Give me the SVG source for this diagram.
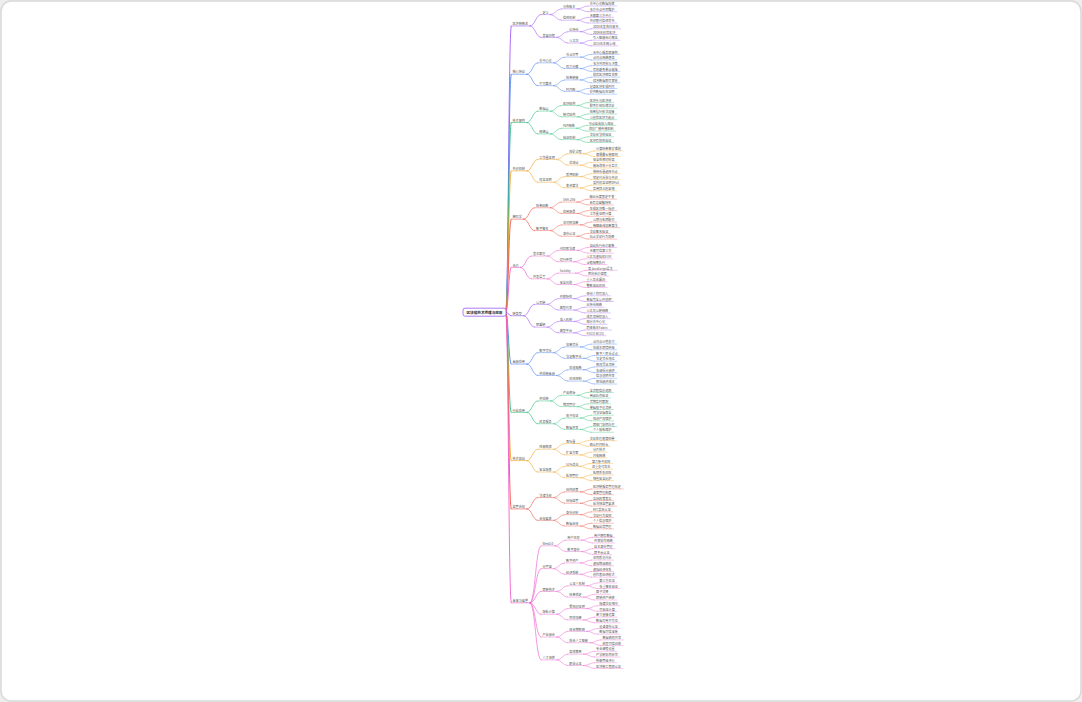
<svg xmlns="http://www.w3.org/2000/svg" width="1082" height="702" viewBox="0 0 1082 702">
<style>
.c1{color:#a35cf5}.c2{color:#4f83f1}.c3{color:#2ec27e}.c4{color:#f5a524}.c5{color:#f0564a}.c6{color:#ee5fcf}
.u1,.u2,.u3,.u4,.k1,.k2,.k3,.k4{fill:none;stroke:currentColor;stroke-linecap:round}
.u1{stroke-width:.6}.u2{stroke-width:.45}.u3{stroke-width:.4}.u4{stroke-width:.35}
.k1{stroke-width:.9}.k2{stroke-width:.65}.k3{stroke-width:.5}.k4{stroke-width:.45}
text{font-family:"Noto Sans CJK SC","Liberation Sans",sans-serif;font-size:3.1px;fill:#555}
.rt{font-size:3.6px;font-weight:bold;fill:#333;text-anchor:middle}
</style>
<rect x="0" y="0" width="1082" height="702" fill="#eeeeee"/>
<rect x="1" y="1" width="1080" height="700" rx="10" fill="#ffffff" stroke="#d9d9d9" stroke-width="1.5"/>

<g id="connectors">
  <g id="root-links">
    <path class="k1 c1" d="M506 312.2C508.5 312.2 508.5 25.95 511 25.95"/>
    <path class="k1 c2" d="M506 312.2C508.5 312.2 508.5 74.25 511 74.25"/>
    <path class="k1 c3" d="M506 312.2C508.5 312.2 508.5 122.55 511 122.55"/>
    <path class="k1 c4" d="M506 312.2C508.5 312.2 508.5 170.85 511 170.85"/>
    <path class="k1 c5" d="M506 312.2C508.5 312.2 508.5 219.15 511 219.15"/>
    <path class="k1 c6" d="M506 312.2C508.5 312.2 508.5 267.45 511 267.45"/>
    <path class="k1 c1" d="M506 312.2C508.5 312.2 508.5 315.75 511 315.75"/>
    <path class="k1 c2" d="M506 312.2C508.5 312.2 508.5 364.05 511 364.05"/>
    <path class="k1 c3" d="M506 312.2C508.5 312.2 508.5 412.35 511 412.35"/>
    <path class="k1 c4" d="M506 312.2C508.5 312.2 508.5 460.65 511 460.65"/>
    <path class="k1 c5" d="M506 312.2C508.5 312.2 508.5 508.95 511 508.95"/>
    <path class="k1 c6" d="M506 312.2C508.5 312.2 508.5 602.85 511 602.85"/>
  </g>
  <g id="links-b1" class="c1" transform="translate(0 4)">
    <path class="k2" d="M530 21.95C535.5 21.95 535.5 10.55 541 10.55"/>
    <path class="k2" d="M530 21.95C535.5 21.95 535.5 33.35 541 33.35"/>
    <path class="k3" d="M550.4 10.55C555.9 10.55 555.9 4.85 561.4 4.85"/>
    <path class="k3" d="M550.4 10.55C555.9 10.55 555.9 16.25 561.4 16.25"/>
    <path class="k3" d="M556.8 33.35C562.3 33.35 562.3 27.65 567.8 27.65"/>
    <path class="k3" d="M556.8 33.35C562.3 33.35 562.3 39.05 567.8 39.05"/>
    <path class="k4" d="M577.2 4.85C582.7 4.85 582.7 2 588.2 2"/>
    <path class="k4" d="M577.2 4.85C582.7 4.85 582.7 7.7 588.2 7.7"/>
    <path class="k4" d="M577.2 16.25C582.7 16.25 582.7 13.4 588.2 13.4"/>
    <path class="k4" d="M577.2 16.25C582.7 16.25 582.7 19.1 588.2 19.1"/>
    <path class="k4" d="M580.4 27.65C585.9 27.65 585.9 24.8 591.4 24.8"/>
    <path class="k4" d="M580.4 27.65C585.9 27.65 585.9 30.5 591.4 30.5"/>
    <path class="k4" d="M580.4 39.05C585.9 39.05 585.9 36.2 591.4 36.2"/>
    <path class="k4" d="M580.4 39.05C585.9 39.05 585.9 41.9 591.4 41.9"/>
  </g>
  <g id="links-b2" class="c2" transform="translate(0 52.3)">
    <path class="k2" d="M526.8 21.95C532.3 21.95 532.3 10.55 537.8 10.55"/>
    <path class="k2" d="M526.8 21.95C532.3 21.95 532.3 33.35 537.8 33.35"/>
    <path class="k3" d="M553.6 10.55C559.1 10.55 559.1 4.85 564.6 4.85"/>
    <path class="k3" d="M553.6 10.55C559.1 10.55 559.1 16.25 564.6 16.25"/>
    <path class="k3" d="M553.6 33.35C559.1 33.35 559.1 27.65 564.6 27.65"/>
    <path class="k3" d="M553.6 33.35C559.1 33.35 559.1 39.05 564.6 39.05"/>
    <path class="k4" d="M580.4 4.85C585.9 4.85 585.9 2 591.4 2"/>
    <path class="k4" d="M580.4 4.85C585.9 4.85 585.9 7.7 591.4 7.7"/>
    <path class="k4" d="M580.4 16.25C585.9 16.25 585.9 13.4 591.4 13.4"/>
    <path class="k4" d="M580.4 16.25C585.9 16.25 585.9 19.1 591.4 19.1"/>
    <path class="k4" d="M580.4 27.65C585.9 27.65 585.9 24.8 591.4 24.8"/>
    <path class="k4" d="M580.4 27.65C585.9 27.65 585.9 30.5 591.4 30.5"/>
    <path class="k4" d="M577.2 39.05C582.7 39.05 582.7 36.2 588.2 36.2"/>
    <path class="k4" d="M577.2 39.05C582.7 39.05 582.7 41.9 588.2 41.9"/>
  </g>
  <g id="links-b3" class="c3" transform="translate(0 100.6)">
    <path class="k2" d="M526.8 21.95C532.3 21.95 532.3 10.55 537.8 10.55"/>
    <path class="k2" d="M526.8 21.95C532.3 21.95 532.3 33.35 537.8 33.35"/>
    <path class="k3" d="M550.4 10.55C555.9 10.55 555.9 4.85 561.4 4.85"/>
    <path class="k3" d="M550.4 10.55C555.9 10.55 555.9 16.25 561.4 16.25"/>
    <path class="k3" d="M550.4 33.35C555.9 33.35 555.9 27.65 561.4 27.65"/>
    <path class="k3" d="M550.4 33.35C555.9 33.35 555.9 39.05 561.4 39.05"/>
    <path class="k4" d="M577.2 4.85C582.7 4.85 582.7 2 588.2 2"/>
    <path class="k4" d="M577.2 4.85C582.7 4.85 582.7 7.7 588.2 7.7"/>
    <path class="k4" d="M577.2 16.25C582.7 16.25 582.7 13.4 588.2 13.4"/>
    <path class="k4" d="M577.2 16.25C582.7 16.25 582.7 19.1 588.2 19.1"/>
    <path class="k4" d="M576.2 27.65C581.7 27.65 581.7 24.8 587.2 24.8"/>
    <path class="k4" d="M576.2 27.65C581.7 27.65 581.7 30.5 587.2 30.5"/>
    <path class="k4" d="M577.2 39.05C582.7 39.05 582.7 36.2 588.2 36.2"/>
    <path class="k4" d="M577.2 39.05C582.7 39.05 582.7 41.9 588.2 41.9"/>
  </g>
  <g id="links-b4" class="c4" transform="translate(0 148.9)">
    <path class="k2" d="M526.8 21.95C532.3 21.95 532.3 10.55 537.8 10.55"/>
    <path class="k2" d="M526.8 21.95C532.3 21.95 532.3 33.35 537.8 33.35"/>
    <path class="k3" d="M556.8 10.55C562.3 10.55 562.3 4.85 567.8 4.85"/>
    <path class="k3" d="M556.8 10.55C562.3 10.55 562.3 16.25 567.8 16.25"/>
    <path class="k3" d="M553.6 33.35C559.1 33.35 559.1 27.65 564.6 27.65"/>
    <path class="k3" d="M553.6 33.35C559.1 33.35 559.1 39.05 564.6 39.05"/>
    <path class="k4" d="M583.6 4.85C589.1 4.85 589.1 2 594.6 2"/>
    <path class="k4" d="M583.6 4.85C589.1 4.85 589.1 7.7 594.6 7.7"/>
    <path class="k4" d="M580.4 16.25C585.9 16.25 585.9 13.4 591.4 13.4"/>
    <path class="k4" d="M580.4 16.25C585.9 16.25 585.9 19.1 591.4 19.1"/>
    <path class="k4" d="M580.4 27.65C585.9 27.65 585.9 24.8 591.4 24.8"/>
    <path class="k4" d="M580.4 27.65C585.9 27.65 585.9 30.5 591.4 30.5"/>
    <path class="k4" d="M580.4 39.05C585.9 39.05 585.9 36.2 591.4 36.2"/>
    <path class="k4" d="M580.4 39.05C585.9 39.05 585.9 41.9 591.4 41.9"/>
  </g>
  <g id="links-b5" class="c5" transform="translate(0 197.2)">
    <path class="k2" d="M523.6 21.95C529.1 21.95 529.1 10.55 534.6 10.55"/>
    <path class="k2" d="M523.6 21.95C529.1 21.95 529.1 33.35 534.6 33.35"/>
    <path class="k3" d="M550.4 10.55C555.9 10.55 555.9 4.85 561.4 4.85"/>
    <path class="k3" d="M550.4 10.55C555.9 10.55 555.9 16.25 561.4 16.25"/>
    <path class="k3" d="M550.4 33.35C555.9 33.35 555.9 27.65 561.4 27.65"/>
    <path class="k3" d="M550.4 33.35C555.9 33.35 555.9 39.05 561.4 39.05"/>
    <path class="k4" d="M577 4.85C582.5 4.85 582.5 2 588 2"/>
    <path class="k4" d="M577 4.85C582.5 4.85 582.5 7.7 588 7.7"/>
    <path class="k4" d="M577.2 16.25C582.7 16.25 582.7 13.4 588.2 13.4"/>
    <path class="k4" d="M577.2 16.25C582.7 16.25 582.7 19.1 588.2 19.1"/>
    <path class="k4" d="M580.4 27.65C585.9 27.65 585.9 24.8 591.4 24.8"/>
    <path class="k4" d="M580.4 27.65C585.9 27.65 585.9 30.5 591.4 30.5"/>
    <path class="k4" d="M577.2 39.05C582.7 39.05 582.7 36.2 588.2 36.2"/>
    <path class="k4" d="M577.2 39.05C582.7 39.05 582.7 41.9 588.2 41.9"/>
  </g>
  <g id="links-b6" class="c6" transform="translate(0 245.5)">
    <path class="k2" d="M520.4 21.95C525.9 21.95 525.9 10.55 531.4 10.55"/>
    <path class="k2" d="M520.4 21.95C525.9 21.95 525.9 33.35 531.4 33.35"/>
    <path class="k3" d="M547.2 10.55C552.7 10.55 552.7 4.85 558.2 4.85"/>
    <path class="k3" d="M547.2 10.55C552.7 10.55 552.7 16.25 558.2 16.25"/>
    <path class="k3" d="M547.2 33.35C552.7 33.35 552.7 27.65 558.2 27.65"/>
    <path class="k3" d="M547.2 33.35C552.7 33.35 552.7 39.05 558.2 39.05"/>
    <path class="k4" d="M577.2 4.85C582.7 4.85 582.7 2 588.2 2"/>
    <path class="k4" d="M577.2 4.85C582.7 4.85 582.7 7.7 588.2 7.7"/>
    <path class="k4" d="M574 16.25C579.5 16.25 579.5 13.4 585 13.4"/>
    <path class="k4" d="M574 16.25C579.5 16.25 579.5 19.1 585 19.1"/>
    <path class="k4" d="M575.6 27.65C581.1 27.65 581.1 24.8 586.6 24.8"/>
    <path class="k4" d="M575.6 27.65C581.1 27.65 581.1 30.5 586.6 30.5"/>
    <path class="k4" d="M574 39.05C579.5 39.05 579.5 36.2 585 36.2"/>
    <path class="k4" d="M574 39.05C579.5 39.05 579.5 41.9 585 41.9"/>
  </g>
  <g id="links-b7" class="c1" transform="translate(0 293.8)">
    <path class="k2" d="M523.6 21.95C529.1 21.95 529.1 10.55 534.6 10.55"/>
    <path class="k2" d="M523.6 21.95C529.1 21.95 529.1 33.35 534.6 33.35"/>
    <path class="k3" d="M547.2 10.55C552.7 10.55 552.7 4.85 558.2 4.85"/>
    <path class="k3" d="M547.2 10.55C552.7 10.55 552.7 16.25 558.2 16.25"/>
    <path class="k3" d="M547.2 33.35C552.7 33.35 552.7 27.65 558.2 27.65"/>
    <path class="k3" d="M547.2 33.35C552.7 33.35 552.7 39.05 558.2 39.05"/>
    <path class="k4" d="M574 4.85C579.5 4.85 579.5 2 585 2"/>
    <path class="k4" d="M574 4.85C579.5 4.85 579.5 7.7 585 7.7"/>
    <path class="k4" d="M574 16.25C579.5 16.25 579.5 13.4 585 13.4"/>
    <path class="k4" d="M574 16.25C579.5 16.25 579.5 19.1 585 19.1"/>
    <path class="k4" d="M574 27.65C579.5 27.65 579.5 24.8 585 24.8"/>
    <path class="k4" d="M574 27.65C579.5 27.65 579.5 30.5 585 30.5"/>
    <path class="k4" d="M574 39.05C579.5 39.05 579.5 36.2 585 36.2"/>
    <path class="k4" d="M574 39.05C579.5 39.05 579.5 41.9 585 41.9"/>
  </g>
  <g id="links-b8" class="c2" transform="translate(0 342.1)">
    <path class="k2" d="M526.8 21.95C532.3 21.95 532.3 10.55 537.8 10.55"/>
    <path class="k2" d="M526.8 21.95C532.3 21.95 532.3 33.35 537.8 33.35"/>
    <path class="k3" d="M553.6 10.55C559.1 10.55 559.1 4.85 564.6 4.85"/>
    <path class="k3" d="M553.6 10.55C559.1 10.55 559.1 16.25 564.6 16.25"/>
    <path class="k3" d="M556.8 33.35C562.3 33.35 562.3 27.65 567.8 27.65"/>
    <path class="k3" d="M556.8 33.35C562.3 33.35 562.3 39.05 567.8 39.05"/>
    <path class="k4" d="M580.4 4.85C585.9 4.85 585.9 2 591.4 2"/>
    <path class="k4" d="M580.4 4.85C585.9 4.85 585.9 7.7 591.4 7.7"/>
    <path class="k4" d="M583.6 16.25C589.1 16.25 589.1 13.4 594.6 13.4"/>
    <path class="k4" d="M583.6 16.25C589.1 16.25 589.1 19.1 594.6 19.1"/>
    <path class="k4" d="M583.6 27.65C589.1 27.65 589.1 24.8 594.6 24.8"/>
    <path class="k4" d="M583.6 27.65C589.1 27.65 589.1 30.5 594.6 30.5"/>
    <path class="k4" d="M583.6 39.05C589.1 39.05 589.1 36.2 594.6 36.2"/>
    <path class="k4" d="M583.6 39.05C589.1 39.05 589.1 41.9 594.6 41.9"/>
  </g>
  <g id="links-b9" class="c3" transform="translate(0 390.4)">
    <path class="k2" d="M526.8 21.95C532.3 21.95 532.3 10.55 537.8 10.55"/>
    <path class="k2" d="M526.8 21.95C532.3 21.95 532.3 33.35 537.8 33.35"/>
    <path class="k3" d="M550.4 10.55C555.9 10.55 555.9 4.85 561.4 4.85"/>
    <path class="k3" d="M550.4 10.55C555.9 10.55 555.9 16.25 561.4 16.25"/>
    <path class="k3" d="M553.6 33.35C559.1 33.35 559.1 27.65 564.6 27.65"/>
    <path class="k3" d="M553.6 33.35C559.1 33.35 559.1 39.05 564.6 39.05"/>
    <path class="k4" d="M577.2 4.85C582.7 4.85 582.7 2 588.2 2"/>
    <path class="k4" d="M577.2 4.85C582.7 4.85 582.7 7.7 588.2 7.7"/>
    <path class="k4" d="M577.2 16.25C582.7 16.25 582.7 13.4 588.2 13.4"/>
    <path class="k4" d="M577.2 16.25C582.7 16.25 582.7 19.1 588.2 19.1"/>
    <path class="k4" d="M580.4 27.65C585.9 27.65 585.9 24.8 591.4 24.8"/>
    <path class="k4" d="M580.4 27.65C585.9 27.65 585.9 30.5 591.4 30.5"/>
    <path class="k4" d="M580.4 39.05C585.9 39.05 585.9 36.2 591.4 36.2"/>
    <path class="k4" d="M580.4 39.05C585.9 39.05 585.9 41.9 591.4 41.9"/>
  </g>
  <g id="links-b10" class="c4" transform="translate(0 438.7)">
    <path class="k2" d="M526.8 21.95C532.3 21.95 532.3 10.55 537.8 10.55"/>
    <path class="k2" d="M526.8 21.95C532.3 21.95 532.3 33.35 537.8 33.35"/>
    <path class="k3" d="M553.6 10.55C559.1 10.55 559.1 4.85 564.6 4.85"/>
    <path class="k3" d="M553.6 10.55C559.1 10.55 559.1 16.25 564.6 16.25"/>
    <path class="k3" d="M553.6 33.35C559.1 33.35 559.1 27.65 564.6 27.65"/>
    <path class="k3" d="M553.6 33.35C559.1 33.35 559.1 39.05 564.6 39.05"/>
    <path class="k4" d="M577.2 4.85C582.7 4.85 582.7 2 588.2 2"/>
    <path class="k4" d="M577.2 4.85C582.7 4.85 582.7 7.7 588.2 7.7"/>
    <path class="k4" d="M580.4 16.25C585.9 16.25 585.9 13.4 591.4 13.4"/>
    <path class="k4" d="M580.4 16.25C585.9 16.25 585.9 19.1 591.4 19.1"/>
    <path class="k4" d="M579.4 27.65C584.9 27.65 584.9 24.8 590.4 24.8"/>
    <path class="k4" d="M579.4 27.65C584.9 27.65 584.9 30.5 590.4 30.5"/>
    <path class="k4" d="M580.4 39.05C585.9 39.05 585.9 36.2 591.4 36.2"/>
    <path class="k4" d="M580.4 39.05C585.9 39.05 585.9 41.9 591.4 41.9"/>
  </g>
  <g id="links-b11" class="c5" transform="translate(0 487)">
    <path class="k2" d="M526.8 21.95C532.3 21.95 532.3 10.55 537.8 10.55"/>
    <path class="k2" d="M526.8 21.95C532.3 21.95 532.3 33.35 537.8 33.35"/>
    <path class="k3" d="M553.6 10.55C559.1 10.55 559.1 4.85 564.6 4.85"/>
    <path class="k3" d="M553.6 10.55C559.1 10.55 559.1 16.25 564.6 16.25"/>
    <path class="k3" d="M553.6 33.35C559.1 33.35 559.1 27.65 564.6 27.65"/>
    <path class="k3" d="M553.6 33.35C559.1 33.35 559.1 39.05 564.6 39.05"/>
    <path class="k4" d="M580.4 4.85C585.9 4.85 585.9 2 591.4 2"/>
    <path class="k4" d="M580.4 4.85C585.9 4.85 585.9 7.7 591.4 7.7"/>
    <path class="k4" d="M580.4 16.25C585.9 16.25 585.9 13.4 591.4 13.4"/>
    <path class="k4" d="M580.4 16.25C585.9 16.25 585.9 19.1 591.4 19.1"/>
    <path class="k4" d="M580.4 27.65C585.9 27.65 585.9 24.8 591.4 24.8"/>
    <path class="k4" d="M580.4 27.65C585.9 27.65 585.9 30.5 591.4 30.5"/>
    <path class="k4" d="M580.4 39.05C585.9 39.05 585.9 36.2 591.4 36.2"/>
    <path class="k4" d="M580.4 39.05C585.9 39.05 585.9 41.9 591.4 41.9"/>
  </g>
  <g id="links-b12" class="c6" transform="translate(0 535.3)">
    <path class="k2" d="M530 67.55C535.5 67.55 535.5 10.55 541 10.55"/>
    <path class="k2" d="M530 67.55C535.5 67.55 535.5 33.35 541 33.35"/>
    <path class="k2" d="M530 67.55C535.5 67.55 535.5 56.15 541 56.15"/>
    <path class="k2" d="M530 67.55C535.5 67.55 535.5 78.95 541 78.95"/>
    <path class="k2" d="M530 67.55C535.5 67.55 535.5 101.75 541 101.75"/>
    <path class="k2" d="M530 67.55C535.5 67.55 535.5 124.55 541 124.55"/>
    <path class="k3" d="M554.8 10.55C560.3 10.55 560.3 4.85 565.8 4.85"/>
    <path class="k3" d="M554.8 10.55C560.3 10.55 560.3 16.25 565.8 16.25"/>
    <path class="k3" d="M553.6 33.35C559.1 33.35 559.1 27.65 564.6 27.65"/>
    <path class="k3" d="M553.6 33.35C559.1 33.35 559.1 39.05 564.6 39.05"/>
    <path class="k3" d="M556.8 56.15C562.3 56.15 562.3 50.45 567.8 50.45"/>
    <path class="k3" d="M556.8 56.15C562.3 56.15 562.3 61.85 567.8 61.85"/>
    <path class="k3" d="M556.8 78.95C562.3 78.95 562.3 73.25 567.8 73.25"/>
    <path class="k3" d="M556.8 78.95C562.3 78.95 562.3 84.65 567.8 84.65"/>
    <path class="k3" d="M556.8 101.75C562.3 101.75 562.3 96.05 567.8 96.05"/>
    <path class="k3" d="M556.8 101.75C562.3 101.75 562.3 107.45 567.8 107.45"/>
    <path class="k3" d="M556.8 124.55C562.3 124.55 562.3 118.85 567.8 118.85"/>
    <path class="k3" d="M556.8 124.55C562.3 124.55 562.3 130.25 567.8 130.25"/>
    <path class="k4" d="M581.6 4.85C587.1 4.85 587.1 2 592.6 2"/>
    <path class="k4" d="M581.6 4.85C587.1 4.85 587.1 7.7 592.6 7.7"/>
    <path class="k4" d="M581.6 16.25C587.1 16.25 587.1 13.4 592.6 13.4"/>
    <path class="k4" d="M581.6 16.25C587.1 16.25 587.1 19.1 592.6 19.1"/>
    <path class="k4" d="M580.4 27.65C585.9 27.65 585.9 24.8 591.4 24.8"/>
    <path class="k4" d="M580.4 27.65C585.9 27.65 585.9 30.5 591.4 30.5"/>
    <path class="k4" d="M580.4 39.05C585.9 39.05 585.9 36.2 591.4 36.2"/>
    <path class="k4" d="M580.4 39.05C585.9 39.05 585.9 41.9 591.4 41.9"/>
    <path class="k4" d="M586.8 50.45C592.3 50.45 592.3 47.6 597.8 47.6"/>
    <path class="k4" d="M586.8 50.45C592.3 50.45 592.3 53.3 597.8 53.3"/>
    <path class="k4" d="M583.6 61.85C589.1 61.85 589.1 59 594.6 59"/>
    <path class="k4" d="M583.6 61.85C589.1 61.85 589.1 64.7 594.6 64.7"/>
    <path class="k4" d="M586.8 73.25C592.3 73.25 592.3 70.4 597.8 70.4"/>
    <path class="k4" d="M586.8 73.25C592.3 73.25 592.3 76.1 597.8 76.1"/>
    <path class="k4" d="M583.6 84.65C589.1 84.65 589.1 81.8 594.6 81.8"/>
    <path class="k4" d="M583.6 84.65C589.1 84.65 589.1 87.5 594.6 87.5"/>
    <path class="k4" d="M586.8 96.05C592.3 96.05 592.3 93.2 597.8 93.2"/>
    <path class="k4" d="M586.8 96.05C592.3 96.05 592.3 98.9 597.8 98.9"/>
    <path class="k4" d="M590 107.45C595.5 107.45 595.5 104.6 601 104.6"/>
    <path class="k4" d="M590 107.45C595.5 107.45 595.5 110.3 601 110.3"/>
    <path class="k4" d="M583.6 118.85C589.1 118.85 589.1 116 594.6 116"/>
    <path class="k4" d="M583.6 118.85C589.1 118.85 589.1 121.7 594.6 121.7"/>
    <path class="k4" d="M583.6 130.25C589.1 130.25 589.1 127.4 594.6 127.4"/>
    <path class="k4" d="M583.6 130.25C589.1 130.25 589.1 133.1 594.6 133.1"/>
  </g>
</g>

<g id="root">
  <rect x="463" y="308.2" width="43" height="8" rx="2" fill="#ffffff" stroke="#9b59f0" stroke-width="0.8"/>
  <text class="rt" x="484.5" y="313.5">区块链技术原理与应用</text>
</g>

<g id="branch1" class="c1" transform="translate(0 4)">
  <g id="b1"><path class="u1" d="M511 21.95h19"/><text x="512.5" y="21.15">区块链概述</text></g>
  <g id="b1-2a"><path class="u2" d="M541 10.55h9.4"/><text x="542.5" y="9.75">定义</text></g>
  <g id="b1-2b"><path class="u2" d="M541 33.35h15.8"/><text x="542.5" y="32.55">发展历程</text></g>
  <g id="b1-3a"><path class="u3" d="M561.4 4.85h15.8"/><text x="562.9" y="4.05">分布账本</text></g>
  <g id="b1-3b"><path class="u3" d="M561.4 16.25h15.8"/><text x="562.9" y="15.45">信任机制</text></g>
  <g id="b1-3c"><path class="u3" d="M567.8 27.65h12.6"/><text x="569.3" y="26.85">比特币</text></g>
  <g id="b1-3d"><path class="u3" d="M567.8 39.05h12.6"/><text x="569.3" y="38.25">以太坊</text></g>
  <g id="b1-4a"><path class="u4" d="M588.2 2h28.6"/><text x="589.7" y="1.2">去中心化数据存储</text></g>
  <g id="b1-4b"><path class="u4" d="M588.2 7.7h28.6"/><text x="589.7" y="6.9">多方节点共同维护</text></g>
  <g id="b1-4c"><path class="u4" d="M588.2 13.4h25.4"/><text x="589.7" y="12.6">无需第三方中介</text></g>
  <g id="b1-4d"><path class="u4" d="M588.2 19.1h28.6"/><text x="589.7" y="18.3">共识替代信任背书</text></g>
  <g id="b1-4e"><path class="u4" d="M591.4 24.8h29.4"/><text x="592.9" y="24">2008年发布白皮书</text></g>
  <g id="b1-4f"><path class="u4" d="M591.4 30.5h26.2"/><text x="592.9" y="29.7">2009年创世区块</text></g>
  <g id="b1-4g"><path class="u4" d="M591.4 36.2h28.6"/><text x="592.9" y="35.4">引入智能合约概念</text></g>
  <g id="b1-4h"><path class="u4" d="M591.4 41.9h26.2"/><text x="592.9" y="41.1">2015年主网上线</text></g>
</g>

<g id="branch2" class="c2" transform="translate(0 52.3)">
  <g id="b2"><path class="u1" d="M511 21.95h15.8"/><text x="512.5" y="21.15">核心特征</text></g>
  <g id="b2-2a"><path class="u2" d="M537.8 10.55h15.8"/><text x="539.3" y="9.75">去中心化</text></g>
  <g id="b2-2b"><path class="u2" d="M537.8 33.35h15.8"/><text x="539.3" y="32.55">不可篡改</text></g>
  <g id="b2-3a"><path class="u3" d="M564.6 4.85h15.8"/><text x="566.1" y="4.05">节点对等</text></g>
  <g id="b2-3b"><path class="u3" d="M564.6 16.25h15.8"/><text x="566.1" y="15.45">权力分散</text></g>
  <g id="b2-3c"><path class="u3" d="M564.6 27.65h15.8"/><text x="566.1" y="26.85">哈希链接</text></g>
  <g id="b2-3d"><path class="u3" d="M564.6 39.05h12.6"/><text x="566.1" y="38.25">时间戳</text></g>
  <g id="b2-4a"><path class="u4" d="M591.4 2h28.6"/><text x="592.9" y="1.2">无中心服务器架构</text></g>
  <g id="b2-4b"><path class="u4" d="M591.4 7.7h25.4"/><text x="592.9" y="6.9">点对点网络通信</text></g>
  <g id="b2-4c"><path class="u4" d="M591.4 13.4h28.6"/><text x="592.9" y="12.6">多方共同参与决策</text></g>
  <g id="b2-4d"><path class="u4" d="M591.4 19.1h28.6"/><text x="592.9" y="18.3">有效避免单点故障</text></g>
  <g id="b2-4e"><path class="u4" d="M591.4 24.8h28.6"/><text x="592.9" y="24">前后区块相互关联</text></g>
  <g id="b2-4f"><path class="u4" d="M591.4 30.5h28.6"/><text x="592.9" y="29.7">修改数据即可察觉</text></g>
  <g id="b2-4g"><path class="u4" d="M588.2 36.2h28.6"/><text x="589.7" y="35.4">记录区块生成时间</text></g>
  <g id="b2-4h"><path class="u4" d="M588.2 41.9h28.6"/><text x="589.7" y="41.1">提供数据存在证明</text></g>
</g>

<g id="branch3" class="c3" transform="translate(0 100.6)">
  <g id="b3"><path class="u1" d="M511 21.95h15.8"/><text x="512.5" y="21.15">技术架构</text></g>
  <g id="b3-2a"><path class="u2" d="M537.8 10.55h12.6"/><text x="539.3" y="9.75">数据层</text></g>
  <g id="b3-2b"><path class="u2" d="M537.8 33.35h12.6"/><text x="539.3" y="32.55">网络层</text></g>
  <g id="b3-3a"><path class="u3" d="M561.4 4.85h15.8"/><text x="562.9" y="4.05">区块结构</text></g>
  <g id="b3-3b"><path class="u3" d="M561.4 16.25h15.8"/><text x="562.9" y="15.45">链式结构</text></g>
  <g id="b3-3c"><path class="u3" d="M561.4 27.65h14.8"/><text x="562.9" y="26.85">P2P网络</text></g>
  <g id="b3-3d"><path class="u3" d="M561.4 39.05h15.8"/><text x="562.9" y="38.25">验证机制</text></g>
  <g id="b3-4a"><path class="u4" d="M588.2 2h25.4"/><text x="589.7" y="1.2">区块头与区块体</text></g>
  <g id="b3-4b"><path class="u4" d="M588.2 7.7h28.6"/><text x="589.7" y="6.9">默克尔树存储交易</text></g>
  <g id="b3-4c"><path class="u4" d="M588.2 13.4h28.6"/><text x="589.7" y="12.6">哈希指针依次连接</text></g>
  <g id="b3-4d"><path class="u4" d="M588.2 19.1h28.6"/><text x="589.7" y="18.3">以创世区块为起点</text></g>
  <g id="b3-4e"><path class="u4" d="M587.2 24.8h28.6"/><text x="588.7" y="24">节点自由加入退出</text></g>
  <g id="b3-4f"><path class="u4" d="M587.2 30.5h28.6"/><text x="588.7" y="29.7">消息广播传播机制</text></g>
  <g id="b3-4g"><path class="u4" d="M588.2 36.2h25.4"/><text x="589.7" y="35.4">交易合法性验证</text></g>
  <g id="b3-4h"><path class="u4" d="M588.2 41.9h25.4"/><text x="589.7" y="41.1">区块有效性验证</text></g>
</g>

<g id="branch4" class="c4" transform="translate(0 148.9)">
  <g id="b4"><path class="u1" d="M511 21.95h15.8"/><text x="512.5" y="21.15">共识机制</text></g>
  <g id="b4-2a"><path class="u2" d="M537.8 10.55h19"/><text x="539.3" y="9.75">工作量证明</text></g>
  <g id="b4-2b"><path class="u2" d="M537.8 33.35h15.8"/><text x="539.3" y="32.55">权益证明</text></g>
  <g id="b4-3a"><path class="u3" d="M567.8 4.85h15.8"/><text x="569.3" y="4.05">挖矿过程</text></g>
  <g id="b4-3b"><path class="u3" d="M567.8 16.25h12.6"/><text x="569.3" y="15.45">优缺点</text></g>
  <g id="b4-3c"><path class="u3" d="M564.6 27.65h15.8"/><text x="566.1" y="26.85">质押机制</text></g>
  <g id="b4-3d"><path class="u3" d="M564.6 39.05h15.8"/><text x="566.1" y="38.25">变体算法</text></g>
  <g id="b4-4a"><path class="u4" d="M594.6 2h28.6"/><text x="596.1" y="1.2">计算哈希数学难题</text></g>
  <g id="b4-4b"><path class="u4" d="M594.6 7.7h25.4"/><text x="596.1" y="6.9">遵循最长链原则</text></g>
  <g id="b4-4c"><path class="u4" d="M591.4 13.4h25.4"/><text x="592.9" y="12.6">安全性相对较高</text></g>
  <g id="b4-4d"><path class="u4" d="M591.4 19.1h28.6"/><text x="592.9" y="18.3">能源消耗十分巨大</text></g>
  <g id="b4-4e"><path class="u4" d="M591.4 24.8h28.6"/><text x="592.9" y="24">按持币量选择节点</text></g>
  <g id="b4-4f"><path class="u4" d="M591.4 30.5h28.6"/><text x="592.9" y="29.7">锁定代币参与共识</text></g>
  <g id="b4-4g"><path class="u4" d="M591.4 36.2h29.4"/><text x="592.9" y="35.4">委托权益证明DPoS</text></g>
  <g id="b4-4h"><path class="u4" d="M591.4 41.9h25.4"/><text x="592.9" y="41.1">实用拜占庭容错</text></g>
</g>

<g id="branch5" class="c5" transform="translate(0 197.2)">
  <g id="b5"><path class="u1" d="M511 21.95h12.6"/><text x="512.5" y="21.15">密码学</text></g>
  <g id="b5-2a"><path class="u2" d="M534.6 10.55h15.8"/><text x="536.1" y="9.75">哈希函数</text></g>
  <g id="b5-2b"><path class="u2" d="M534.6 33.35h15.8"/><text x="536.1" y="32.55">数字签名</text></g>
  <g id="b5-3a"><path class="u3" d="M561.4 4.85h15.6"/><text x="562.9" y="4.05">SHA-256</text></g>
  <g id="b5-3b"><path class="u3" d="M561.4 16.25h15.8"/><text x="562.9" y="15.45">应用场景</text></g>
  <g id="b5-3c"><path class="u3" d="M561.4 27.65h19"/><text x="562.9" y="26.85">非对称加密</text></g>
  <g id="b5-3d"><path class="u3" d="M561.4 39.05h15.8"/><text x="562.9" y="38.25">身份认证</text></g>
  <g id="b5-4a"><path class="u4" d="M588 2h28.6"/><text x="589.5" y="1.2">输出长度固定不变</text></g>
  <g id="b5-4b"><path class="u4" d="M588 7.7h25.4"/><text x="589.5" y="6.9">具有抗碰撞特性</text></g>
  <g id="b5-4c"><path class="u4" d="M588.2 13.4h28.6"/><text x="589.7" y="12.6">生成区块唯一标识</text></g>
  <g id="b5-4d"><path class="u4" d="M588.2 19.1h25.4"/><text x="589.7" y="18.3">工作量证明计算</text></g>
  <g id="b5-4e"><path class="u4" d="M591.4 24.8h25.4"/><text x="592.9" y="24">公钥与私钥配对</text></g>
  <g id="b5-4f"><path class="u4" d="M591.4 30.5h28.6"/><text x="592.9" y="29.7">椭圆曲线加密算法</text></g>
  <g id="b5-4g"><path class="u4" d="M588.2 36.2h22.2"/><text x="589.7" y="35.4">交易签名验证</text></g>
  <g id="b5-4h"><path class="u4" d="M588.2 41.9h28.6"/><text x="589.7" y="41.1">防止交易行为抵赖</text></g>
</g>

<g id="branch6" class="c6" transform="translate(0 245.5)">
  <g id="b6"><path class="u1" d="M511 21.95h9.4"/><text x="512.5" y="21.15">合约</text></g>
  <g id="b6-2a"><path class="u2" d="M531.4 10.55h15.8"/><text x="532.9" y="9.75">基本原理</text></g>
  <g id="b6-2b"><path class="u2" d="M531.4 33.35h15.8"/><text x="532.9" y="32.55">开发语言</text></g>
  <g id="b6-3a"><path class="u3" d="M558.2 4.85h19"/><text x="559.7" y="4.05">代码即法律</text></g>
  <g id="b6-3b"><path class="u3" d="M558.2 16.25h15.8"/><text x="559.7" y="15.45">运行环境</text></g>
  <g id="b6-3c"><path class="u3" d="M558.2 27.65h17.4"/><text x="559.7" y="26.85">Solidity</text></g>
  <g id="b6-3d"><path class="u3" d="M558.2 39.05h15.8"/><text x="559.7" y="38.25">安全问题</text></g>
  <g id="b6-4a"><path class="u4" d="M588.2 2h28.6"/><text x="589.7" y="1.2">自动执行合约条款</text></g>
  <g id="b6-4b"><path class="u4" d="M588.2 7.7h25.4"/><text x="589.7" y="6.9">无需可信第三方</text></g>
  <g id="b6-4c"><path class="u4" d="M585 13.4h27.6"/><text x="586.5" y="12.6">以太坊虚拟机EVM</text></g>
  <g id="b6-4d"><path class="u4" d="M585 19.1h22.2"/><text x="586.5" y="18.3">沙箱隔离执行</text></g>
  <g id="b6-4e"><path class="u4" d="M586.6 24.8h30.6"/><text x="588.1" y="24">类JavaScript语法</text></g>
  <g id="b6-4f"><path class="u4" d="M586.6 30.5h22.2"/><text x="588.1" y="29.7">面向合约编程</text></g>
  <g id="b6-4g"><path class="u4" d="M585 36.2h22.2"/><text x="586.5" y="35.4">重入攻击漏洞</text></g>
  <g id="b6-4h"><path class="u4" d="M585 41.9h22.2"/><text x="586.5" y="41.1">整数溢出风险</text></g>
</g>

<g id="branch7" class="c1" transform="translate(0 293.8)">
  <g id="b7"><path class="u1" d="M511 21.95h12.6"/><text x="512.5" y="21.15">链类型</text></g>
  <g id="b7-2a"><path class="u2" d="M534.6 10.55h12.6"/><text x="536.1" y="9.75">公有链</text></g>
  <g id="b7-2b"><path class="u2" d="M534.6 33.35h12.6"/><text x="536.1" y="32.55">联盟链</text></g>
  <g id="b7-3a"><path class="u3" d="M558.2 4.85h15.8"/><text x="559.7" y="4.05">开放特性</text></g>
  <g id="b7-3b"><path class="u3" d="M558.2 16.25h15.8"/><text x="559.7" y="15.45">典型代表</text></g>
  <g id="b7-3c"><path class="u3" d="M558.2 27.65h15.8"/><text x="559.7" y="26.85">准入机制</text></g>
  <g id="b7-3d"><path class="u3" d="M558.2 39.05h15.8"/><text x="559.7" y="38.25">典型平台</text></g>
  <g id="b7-4a"><path class="u4" d="M585 2h25.4"/><text x="586.5" y="1.2">任何人均可加入</text></g>
  <g id="b7-4b"><path class="u4" d="M585 7.7h28.6"/><text x="586.5" y="6.9">数据完全公开透明</text></g>
  <g id="b7-4c"><path class="u4" d="M585 13.4h19"/><text x="586.5" y="12.6">比特币网络</text></g>
  <g id="b7-4d"><path class="u4" d="M585 19.1h25.4"/><text x="586.5" y="18.3">以太坊公链网络</text></g>
  <g id="b7-4e"><path class="u4" d="M585 24.8h25.4"/><text x="586.5" y="24">成员须授权加入</text></g>
  <g id="b7-4f"><path class="u4" d="M585 30.5h22.2"/><text x="586.5" y="29.7">部分去中心化</text></g>
  <g id="b7-4g"><path class="u4" d="M585 36.2h26.6"/><text x="586.5" y="35.4">超级账本Fabric</text></g>
  <g id="b7-4h"><path class="u4" d="M585 41.9h21"/><text x="586.5" y="41.1">FISCO BCOS</text></g>
</g>

<g id="branch8" class="c2" transform="translate(0 342.1)">
  <g id="b8"><path class="u1" d="M511 21.95h15.8"/><text x="512.5" y="21.15">金融应用</text></g>
  <g id="b8-2a"><path class="u2" d="M537.8 10.55h15.8"/><text x="539.3" y="9.75">数字货币</text></g>
  <g id="b8-2b"><path class="u2" d="M537.8 33.35h19"/><text x="539.3" y="32.55">供应链金融</text></g>
  <g id="b8-3a"><path class="u3" d="M564.6 4.85h15.8"/><text x="566.1" y="4.05">加密货币</text></g>
  <g id="b8-3b"><path class="u3" d="M564.6 16.25h19"/><text x="566.1" y="15.45">法定数字币</text></g>
  <g id="b8-3c"><path class="u3" d="M567.8 27.65h15.8"/><text x="569.3" y="26.85">应收账款</text></g>
  <g id="b8-3d"><path class="u3" d="M567.8 39.05h15.8"/><text x="569.3" y="38.25">风险控制</text></g>
  <g id="b8-4a"><path class="u4" d="M591.4 2h25.4"/><text x="592.9" y="1.2">点对点价值支付</text></g>
  <g id="b8-4b"><path class="u4" d="M591.4 7.7h25.4"/><text x="592.9" y="6.9">低成本跨境转账</text></g>
  <g id="b8-4c"><path class="u4" d="M594.6 13.4h25.4"/><text x="596.1" y="12.6">数字人民币试点</text></g>
  <g id="b8-4d"><path class="u4" d="M594.6 19.1h22.2"/><text x="596.1" y="18.3">法定货币地位</text></g>
  <g id="b8-4e"><path class="u4" d="M594.6 24.8h22.2"/><text x="596.1" y="24">债权凭证流转</text></g>
  <g id="b8-4f"><path class="u4" d="M594.6 30.5h22.2"/><text x="596.1" y="29.7">多级拆分融资</text></g>
  <g id="b8-4g"><path class="u4" d="M594.6 36.2h22.2"/><text x="596.1" y="35.4">信息透明共享</text></g>
  <g id="b8-4h"><path class="u4" d="M594.6 41.9h22.2"/><text x="596.1" y="41.1">降低融资成本</text></g>
</g>

<g id="branch9" class="c3" transform="translate(0 390.4)">
  <g id="b9"><path class="u1" d="M511 21.95h15.8"/><text x="512.5" y="21.15">行业应用</text></g>
  <g id="b9-2a"><path class="u2" d="M537.8 10.55h12.6"/><text x="539.3" y="9.75">供应链</text></g>
  <g id="b9-2b"><path class="u2" d="M537.8 33.35h15.8"/><text x="539.3" y="32.55">政务服务</text></g>
  <g id="b9-3a"><path class="u3" d="M561.4 4.85h15.8"/><text x="562.9" y="4.05">产品溯源</text></g>
  <g id="b9-3b"><path class="u3" d="M561.4 16.25h15.8"/><text x="562.9" y="15.45">物流管理</text></g>
  <g id="b9-3c"><path class="u3" d="M564.6 27.65h15.8"/><text x="566.1" y="26.85">电子存证</text></g>
  <g id="b9-3d"><path class="u3" d="M564.6 39.05h15.8"/><text x="566.1" y="38.25">数据共享</text></g>
  <g id="b9-4a"><path class="u4" d="M588.2 2h25.4"/><text x="589.7" y="1.2">全流程信息追踪</text></g>
  <g id="b9-4b"><path class="u4" d="M588.2 7.7h22.2"/><text x="589.7" y="6.9">商品防伪验证</text></g>
  <g id="b9-4c"><path class="u4" d="M588.2 13.4h22.2"/><text x="589.7" y="12.6">货物实时跟踪</text></g>
  <g id="b9-4d"><path class="u4" d="M588.2 19.1h25.4"/><text x="589.7" y="18.3">单据电子化流转</text></g>
  <g id="b9-4e"><path class="u4" d="M591.4 24.8h22.2"/><text x="592.9" y="24">司法证据保全</text></g>
  <g id="b9-4f"><path class="u4" d="M591.4 30.5h22.2"/><text x="592.9" y="29.7">知识产权保护</text></g>
  <g id="b9-4g"><path class="u4" d="M591.4 36.2h25.4"/><text x="592.9" y="35.4">跨部门协同办理</text></g>
  <g id="b9-4h"><path class="u4" d="M591.4 41.9h22.2"/><text x="592.9" y="41.1">个人隐私保护</text></g>
</g>

<g id="branch10" class="c4" transform="translate(0 438.7)">
  <g id="b10"><path class="u1" d="M511 21.95h15.8"/><text x="512.5" y="21.15">技术挑战</text></g>
  <g id="b10-2a"><path class="u2" d="M537.8 10.55h15.8"/><text x="539.3" y="9.75">性能瓶颈</text></g>
  <g id="b10-2b"><path class="u2" d="M537.8 33.35h15.8"/><text x="539.3" y="32.55">安全隐患</text></g>
  <g id="b10-3a"><path class="u3" d="M564.6 4.85h12.6"/><text x="566.1" y="4.05">吞吐量</text></g>
  <g id="b10-3b"><path class="u3" d="M564.6 16.25h15.8"/><text x="566.1" y="15.45">扩容方案</text></g>
  <g id="b10-3c"><path class="u3" d="M564.6 27.65h14.8"/><text x="566.1" y="26.85">51%攻击</text></g>
  <g id="b10-3d"><path class="u3" d="M564.6 39.05h15.8"/><text x="566.1" y="38.25">私钥管理</text></g>
  <g id="b10-4a"><path class="u4" d="M588.2 2h28.6"/><text x="589.7" y="1.2">交易处理速度较慢</text></g>
  <g id="b10-4b"><path class="u4" d="M588.2 7.7h22.2"/><text x="589.7" y="6.9">确认时间较长</text></g>
  <g id="b10-4c"><path class="u4" d="M591.4 13.4h15.8"/><text x="592.9" y="12.6">分片技术</text></g>
  <g id="b10-4d"><path class="u4" d="M591.4 19.1h15.8"/><text x="592.9" y="18.3">闪电网络</text></g>
  <g id="b10-4e"><path class="u4" d="M590.4 24.8h22.2"/><text x="591.9" y="24">算力集中风险</text></g>
  <g id="b10-4f"><path class="u4" d="M590.4 30.5h22.2"/><text x="591.9" y="29.7">双重支付攻击</text></g>
  <g id="b10-4g"><path class="u4" d="M591.4 36.2h22.2"/><text x="592.9" y="35.4">私钥丢失风险</text></g>
  <g id="b10-4h"><path class="u4" d="M591.4 41.9h22.2"/><text x="592.9" y="41.1">钱包安全防护</text></g>
</g>

<g id="branch11" class="c5" transform="translate(0 487)">
  <g id="b11"><path class="u1" d="M511 21.95h15.8"/><text x="512.5" y="21.15">监管合规</text></g>
  <g id="b11-2a"><path class="u2" d="M537.8 10.55h15.8"/><text x="539.3" y="9.75">法律法规</text></g>
  <g id="b11-2b"><path class="u2" d="M537.8 33.35h15.8"/><text x="539.3" y="32.55">合规要求</text></g>
  <g id="b11-3a"><path class="u3" d="M564.6 4.85h15.8"/><text x="566.1" y="4.05">国内政策</text></g>
  <g id="b11-3b"><path class="u3" d="M564.6 16.25h15.8"/><text x="566.1" y="15.45">国际监管</text></g>
  <g id="b11-3c"><path class="u3" d="M564.6 27.65h15.8"/><text x="566.1" y="26.85">身份识别</text></g>
  <g id="b11-3d"><path class="u3" d="M564.6 39.05h15.8"/><text x="566.1" y="38.25">数据合规</text></g>
  <g id="b11-4a"><path class="u4" d="M591.4 2h31.8"/><text x="592.9" y="1.2">区块链服务管理规定</text></g>
  <g id="b11-4b"><path class="u4" d="M591.4 7.7h22.2"/><text x="592.9" y="6.9">备案管理制度</text></g>
  <g id="b11-4c"><path class="u4" d="M591.4 13.4h22.2"/><text x="592.9" y="12.6">各国政策差异</text></g>
  <g id="b11-4d"><path class="u4" d="M591.4 19.1h25.4"/><text x="592.9" y="18.3">反洗钱监管要求</text></g>
  <g id="b11-4e"><path class="u4" d="M591.4 24.8h21.2"/><text x="592.9" y="24">KYC实名认证</text></g>
  <g id="b11-4f"><path class="u4" d="M591.4 30.5h22.2"/><text x="592.9" y="29.7">交易行为监控</text></g>
  <g id="b11-4g"><path class="u4" d="M591.4 36.2h22.2"/><text x="592.9" y="35.4">个人信息保护</text></g>
  <g id="b11-4h"><path class="u4" d="M591.4 41.9h22.2"/><text x="592.9" y="41.1">数据出境管理</text></g>
</g>

<g id="branch12" class="c6" transform="translate(0 535.3)">
  <g id="b12"><path class="u1" d="M511 67.55h19"/><text x="512.5" y="66.75">未来与展望</text></g>
  <g id="b12-2a"><path class="u2" d="M541 10.55h13.8"/><text x="542.5" y="9.75">Web3.0</text></g>
  <g id="b12-2b"><path class="u2" d="M541 33.35h12.6"/><text x="542.5" y="32.55">元宇宙</text></g>
  <g id="b12-2c"><path class="u2" d="M541 56.15h15.8"/><text x="542.5" y="55.35">跨链技术</text></g>
  <g id="b12-2d"><path class="u2" d="M541 78.95h15.8"/><text x="542.5" y="78.15">隐私计算</text></g>
  <g id="b12-2e"><path class="u2" d="M541 101.75h15.8"/><text x="542.5" y="100.95">产业融合</text></g>
  <g id="b12-2f"><path class="u2" d="M541 124.55h15.8"/><text x="542.5" y="123.75">人才培养</text></g>
  <g id="b12-3a"><path class="u3" d="M565.8 4.85h15.8"/><text x="567.3" y="4.05">用户主权</text></g>
  <g id="b12-3b"><path class="u3" d="M565.8 16.25h15.8"/><text x="567.3" y="15.45">数字身份</text></g>
  <g id="b12-3c"><path class="u3" d="M564.6 27.65h15.8"/><text x="566.1" y="26.85">数字资产</text></g>
  <g id="b12-3d"><path class="u3" d="M564.6 39.05h15.8"/><text x="566.1" y="38.25">经济系统</text></g>
  <g id="b12-3e"><path class="u3" d="M567.8 50.45h19"/><text x="569.3" y="49.65">公证人机制</text></g>
  <g id="b12-3f"><path class="u3" d="M567.8 61.85h15.8"/><text x="569.3" y="61.05">哈希锁定</text></g>
  <g id="b12-3g"><path class="u3" d="M567.8 73.25h19"/><text x="569.3" y="72.45">零知识证明</text></g>
  <g id="b12-3h"><path class="u3" d="M567.8 84.65h15.8"/><text x="569.3" y="83.85">同态加密</text></g>
  <g id="b12-3i"><path class="u3" d="M567.8 96.05h19"/><text x="569.3" y="95.25">结合物联网</text></g>
  <g id="b12-3j"><path class="u3" d="M567.8 107.45h22.2"/><text x="569.3" y="106.65">结合人工智能</text></g>
  <g id="b12-3k"><path class="u3" d="M567.8 118.85h15.8"/><text x="569.3" y="118.05">高校教育</text></g>
  <g id="b12-3l"><path class="u3" d="M567.8 130.25h15.8"/><text x="569.3" y="129.45">职业认证</text></g>
  <g id="b12-4a"><path class="u4" d="M592.6 2h22.2"/><text x="594.1" y="1.2">用户拥有数据</text></g>
  <g id="b12-4b"><path class="u4" d="M592.6 7.7h22.2"/><text x="594.1" y="6.9">开放协作网络</text></g>
  <g id="b12-4c"><path class="u4" d="M592.6 13.4h22.2"/><text x="594.1" y="12.6">自主身份管理</text></g>
  <g id="b12-4d"><path class="u4" d="M592.6 19.1h19"/><text x="594.1" y="18.3">跨平台认证</text></g>
  <g id="b12-4e"><path class="u4" d="M591.4 24.8h22.2"/><text x="592.9" y="24">非同质化代币</text></g>
  <g id="b12-4f"><path class="u4" d="M591.4 30.5h22.2"/><text x="592.9" y="29.7">虚拟物品确权</text></g>
  <g id="b12-4g"><path class="u4" d="M591.4 36.2h22.2"/><text x="592.9" y="35.4">虚拟经济体系</text></g>
  <g id="b12-4h"><path class="u4" d="M591.4 41.9h25.4"/><text x="592.9" y="41.1">创作者经济模式</text></g>
  <g id="b12-4i"><path class="u4" d="M597.8 47.6h19"/><text x="599.3" y="46.8">第三方见证</text></g>
  <g id="b12-4j"><path class="u4" d="M597.8 53.3h22.2"/><text x="599.3" y="52.5">多重签名验证</text></g>
  <g id="b12-4k"><path class="u4" d="M594.6 59h15.8"/><text x="596.1" y="58.2">原子交换</text></g>
  <g id="b12-4l"><path class="u4" d="M594.6 64.7h22.2"/><text x="596.1" y="63.9">跨链资产转移</text></g>
  <g id="b12-4m"><path class="u4" d="M597.8 70.4h22.2"/><text x="599.3" y="69.6">隐藏交易细节</text></g>
  <g id="b12-4n"><path class="u4" d="M597.8 76.1h19"/><text x="599.3" y="75.3">可验证计算</text></g>
  <g id="b12-4o"><path class="u4" d="M594.6 81.8h22.2"/><text x="596.1" y="81">密文直接运算</text></g>
  <g id="b12-4p"><path class="u4" d="M594.6 87.5h25.4"/><text x="596.1" y="86.7">数据可用不可见</text></g>
  <g id="b12-4q"><path class="u4" d="M597.8 93.2h22.2"/><text x="599.3" y="92.4">设备身份认证</text></g>
  <g id="b12-4r"><path class="u4" d="M597.8 98.9h22.2"/><text x="599.3" y="98.1">数据可信采集</text></g>
  <g id="b12-4s"><path class="u4" d="M601 104.6h22.2"/><text x="602.5" y="103.8">数据确权共享</text></g>
  <g id="b12-4t"><path class="u4" d="M601 110.3h22.2"/><text x="602.5" y="109.5">模型可信训练</text></g>
  <g id="b12-4u"><path class="u4" d="M594.6 116h22.2"/><text x="596.1" y="115.2">专业课程设置</text></g>
  <g id="b12-4v"><path class="u4" d="M594.6 121.7h25.4"/><text x="596.1" y="120.9">产学研协同合作</text></g>
  <g id="b12-4w"><path class="u4" d="M594.6 127.4h22.2"/><text x="596.1" y="126.6">技能等级评价</text></g>
  <g id="b12-4x"><path class="u4" d="M594.6 133.1h28.6"/><text x="596.1" y="132.3">区块链工程师认证</text></g>
</g>
</svg>
